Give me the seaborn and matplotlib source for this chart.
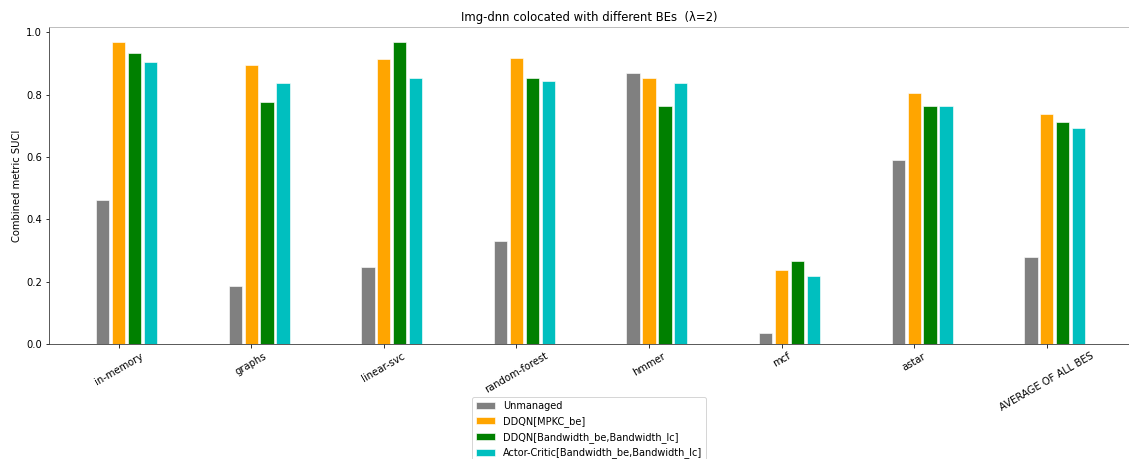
import numpy as np
import pandas as pd
import seaborn as sns
import matplotlib.pyplot as plt

# benchmark names (x axis)
benchmarks = ['in-memory', 'graphs', 'linear-svc', 'random-forest',
              'hmmer', 'mcf', 'astar', 'AVERAGE OF ALL BES']

# combined metric SUCI per scheme
unmanaged = [0.462, 0.187, 0.246, 0.331, 0.870, 0.034, 0.590, 0.278]
ddqn_mpkc = [0.969, 0.895, 0.914, 0.919, 0.854, 0.237, 0.807, 0.737]
ddqn_bw = [0.933, 0.776, 0.969, 0.854, 0.763, 0.266, 0.763, 0.712]
actor_critic = [0.904, 0.838, 0.854, 0.844, 0.838, 0.218, 0.765, 0.693]

labels = ['Unmanaged', 'DDQN[MPKC_be]', 'DDQN[Bandwidth_be,Bandwidth_lc]',
          'Actor-Critic[Bandwidth_be,Bandwidth_lc]']
colors = ['gray', 'orange', 'green', 'c']
series = [unmanaged, ddqn_mpkc, ddqn_bw, actor_critic]

fig = plt.figure(figsize=(1129 / 72, 459 / 72), dpi=72)
ax = fig.add_axes([49 / 1129, 115 / 459, 1 - 49 / 1129, 317 / 459])

pos = np.arange(len(benchmarks))
offset = 0.12
for i, (vals, lab, col) in enumerate(zip(series, labels, colors)):
    df = pd.DataFrame({'x': pos + (i - 1) * offset, 'y': vals})
    sns.barplot(data=df, x='x', y='y', native_scale=True, width=0.1,
                color=col, saturation=1, edgecolor='white', linewidth=0.6,
                label=lab, ax=ax)

ax.set_xticks(pos)
ax.set_xticklabels(benchmarks, rotation=30)
ax.set_xlim(-0.525, 7.62)
ax.set_ylim(0, 1.0175)
ax.set_xlabel('')
ax.set_ylabel('Combined metric SUCI')
ax.set_title('Img-dnn colocated with different BEs  (λ=2)', fontsize=11.6)

ax.spines['right'].set_visible(False)
ax.spines['top'].set_color('#b0b0b0')
ax.spines['left'].set_color('#333333')
ax.spines['bottom'].set_color('#333333')

# legend sits below the axes, partly past the figure edge like the original
ax.legend(loc='upper center', bbox_to_anchor=(0.5, -0.152), fontsize=9.8)

fig.savefig('out.png', dpi=72)
